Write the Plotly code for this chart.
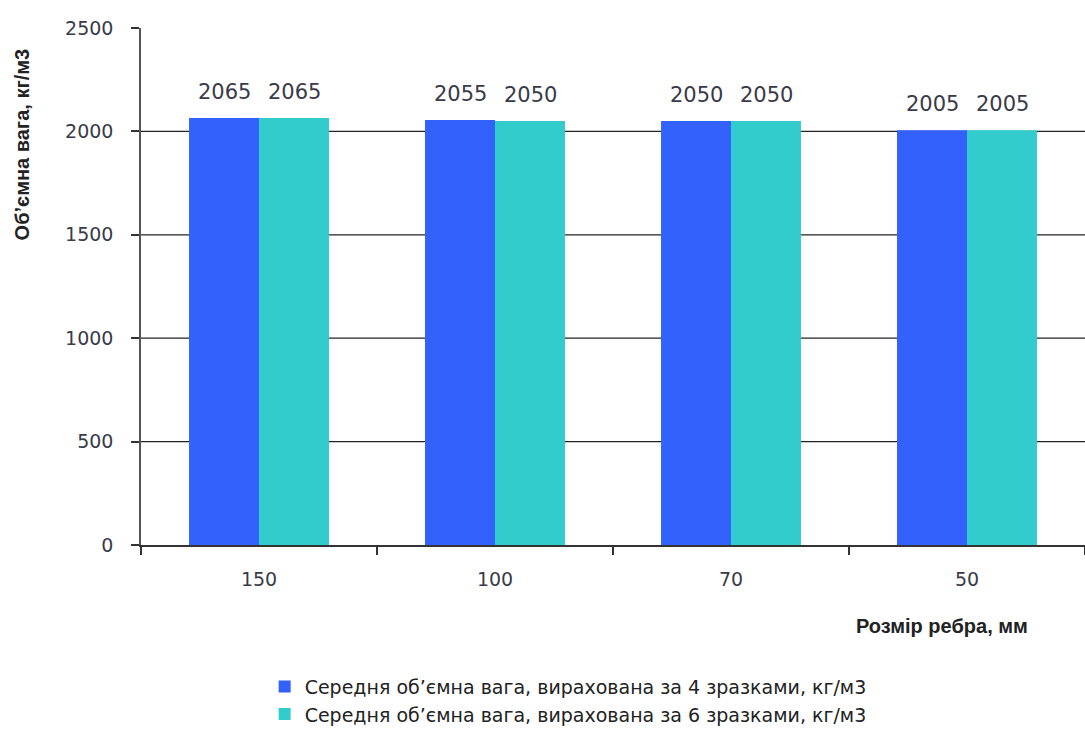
import plotly.graph_objects as go

categories = ["150", "100", "70", "50"]
series_names = [
    "Середня об’ємна вага, вирахована за 4 зразками, кг/м3",
    "Середня об’ємна вага, вирахована за 6 зразками, кг/м3",
]
values_4 = [2065, 2055, 2050, 2005]
values_6 = [2065, 2050, 2050, 2005]
y_ticks = [0, 500, 1000, 1500, 2000, 2500]
grid_vals = [500, 1000, 1500, 2000]

colors = ["#3361FB", "#33CCCC"]
font_fam = "DejaVu Sans, Liberation Sans, Arial, sans-serif"
bold_fam = "Liberation Sans, Arial, sans-serif"
txt_col = "#3a3a48"

fig = go.Figure()
for i, (name, vals, col) in enumerate(zip(series_names, [values_4, values_6], colors)):
    fig.add_trace(go.Bar(x=categories, y=vals, name=name, legendgroup=f"g{i}",
                         marker=dict(color=col, line=dict(width=0))))

# data labels
for shift, vals in zip([-35, 35], [values_4, values_6]):
    for idx, v in enumerate(vals):
        fig.add_annotation(x=idx, y=v, text=str(v), showarrow=False, xshift=shift, yshift=26,
                           font=dict(family=font_fam, size=21, color=txt_col))

for g in grid_vals:
    fig.add_shape(type="line", xref="paper", x0=0, x1=1, yref="y", y0=g, y1=g,
                  line=dict(color="#222222", width=1.2), layer="below")

fig.add_annotation(xref="paper", yref="paper", x=0.942, y=-0.157, xanchor="right", yanchor="middle",
                   text="<b>Розмір ребра, мм</b>", showarrow=False,
                   font=dict(family=bold_fam, size=20, color="#222222"))

fig.add_annotation(xref="paper", yref="paper", x=-0.126, y=0.775, xanchor="center", yanchor="middle",
                   text="<b>Об’ємна вага, кг/м3</b>", showarrow=False, textangle=-90,
                   font=dict(family=bold_fam, size=20, color="#222222"))

fig.update_layout(
    width=1085, height=738,
    margin=dict(l=141, r=0, t=28, b=193),
    paper_bgcolor="white", plot_bgcolor="white",
    barmode="group", bargap=0.407, bargroupgap=0,
    font=dict(family=font_fam, size=18, color=txt_col),
    showlegend=True,
    legend=dict(orientation="v", x=0.131, xanchor="left", y=-0.237, yanchor="top",
                font=dict(family=font_fam, size=19, color="#222222"),
                tracegroupgap=17, itemwidth=30, traceorder="normal"),
    xaxis=dict(type="category", range=[-0.5, 3.5], tickson="boundaries", ticks="outside", ticklen=8,
               tickwidth=1.5, tickcolor="#333333", showline=True, linecolor="#333333", linewidth=1.5,
               showgrid=False, ticklabelstandoff=16,
               tickfont=dict(family=font_fam, size=19, color=txt_col)),
    yaxis=dict(range=[0, 2500], tickvals=y_ticks, ticks="outside", ticklen=8, tickwidth=1.5,
               tickcolor="#333333", showline=True, linecolor="#555555", linewidth=1.5,
               showgrid=False, zeroline=False, ticklabelstandoff=14,
               tickfont=dict(family=font_fam, size=19, color=txt_col)),
)

fig.write_html("out.html")
